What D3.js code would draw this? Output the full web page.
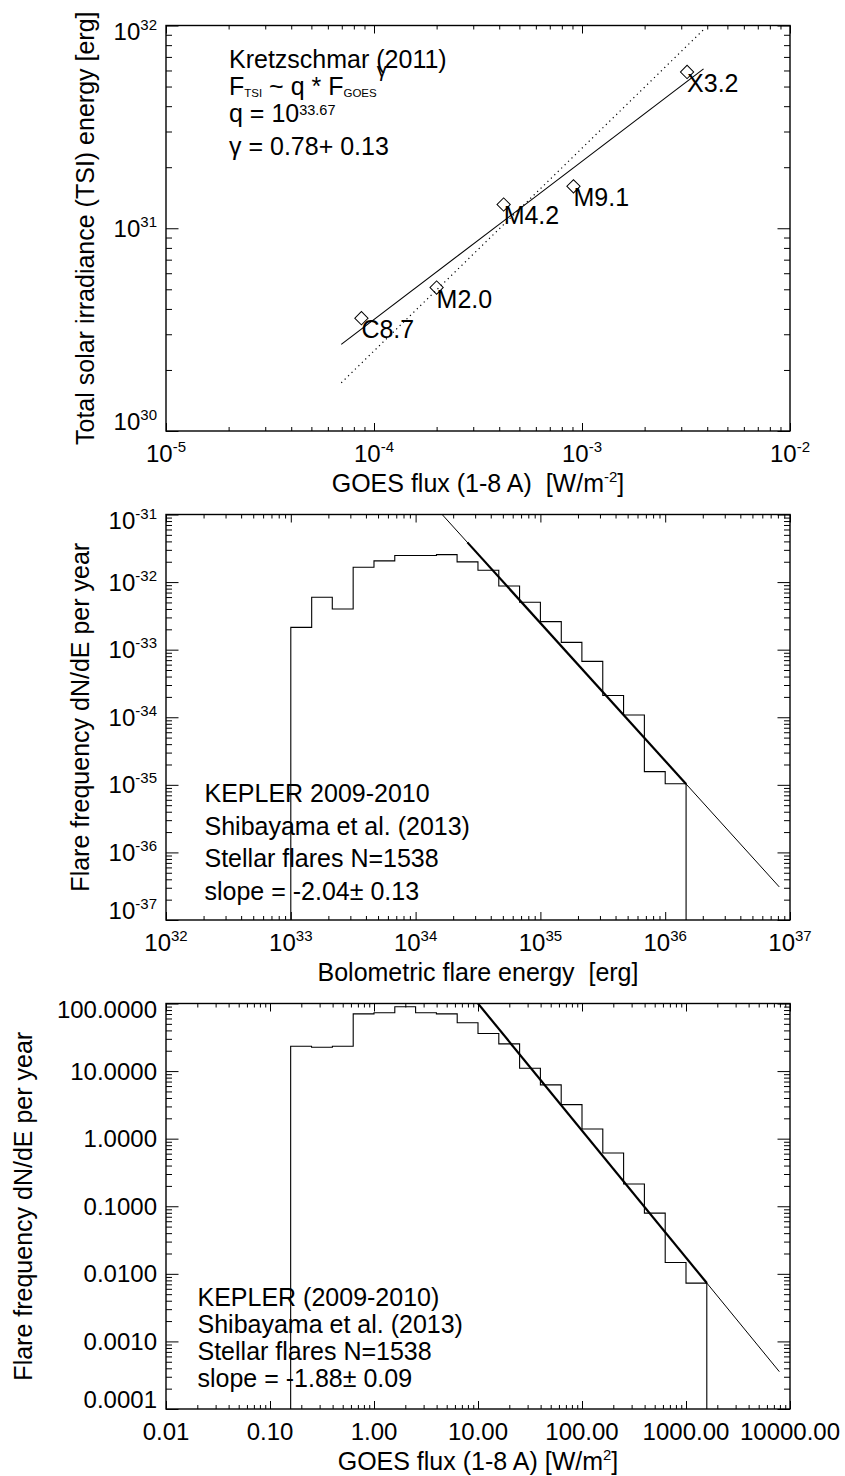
<!DOCTYPE html>
<html><head><meta charset="utf-8">
<script src="https://cdn.jsdelivr.net/npm/d3@7/dist/d3.min.js"></script>
<style>
html,body{margin:0;padding:0;background:#fff;}
svg text{font-family:"Liberation Sans",Arial,Helvetica,sans-serif;fill:#000;white-space:pre;}
</style></head><body>
<svg id="chart" width="845" height="1476"></svg>
<script>
// ---------------- Panel 1: Kretzschmar (2011) ----------------
const flareLabels   = ["C8.7","M2.0","M4.2","M9.1","X3.2"];
const goesPeakFlux  = [8.7e-5, 2.0e-4, 4.2e-4, 9.1e-4, 3.2e-3];
const tsiEnergy     = [3.6e30, 5.1e30, 1.31e31, 1.61e31, 5.9e31];
const tsiFitLogQ    = 33.67;
const tsiFitGamma   = 0.78;
const tsiFitRange   = [6.96e-5, 3.84e-3];
const linFitLogQ    = 34.395;
const linFitGamma   = 1.0;
const p1XDomain     = [1e-5, 1e-2];
const p1YDomain     = [1e30, 1e32];
const p1XTicks      = [1e-5, 1e-4, 1e-3, 1e-2];
const p1XTickExp    = ["-5","-4","-3","-2"];
const p1YTicks      = [1e30, 1e31, 1e32];
const p1YTickExp    = ["30","31","32"];

// ---------------- Panel 2: Kepler energy distribution ----------------
const energyBinEdges = [1.00e33,1.47e33,2.15e33,3.16e33,4.64e33,6.81e33,1.00e34,1.47e34,2.15e34,3.16e34,
                        4.64e34,6.81e34,1.00e35,1.47e35,2.15e35,3.16e35,4.64e35,6.81e35,1.00e36,1.47e36];
const energyFreq     = [2.14e-33,5.96e-33,4.0e-33,1.66e-32,2.06e-32,2.47e-32,2.47e-32,2.55e-32,1.99e-32,1.50e-32,
                        8.77e-33,5.02e-33,2.60e-33,1.28e-33,6.71e-34,2.10e-34,1.08e-34,1.57e-35,1.04e-35];
const energySlope    = -2.04;
const energyLogNorm  = 38.794;
const energyLineRange= [1.0e34, 8.2e36];
const energyFitRange = [2.6e34, 1.47e36];
const p2XDomain      = [1e32, 1e37];
const p2YDomain      = [1e-37, 1e-31];
const p2XTicks       = [1e32,1e33,1e34,1e35,1e36,1e37];
const p2XTickExp     = ["32","33","34","35","36","37"];
const p2YTicks       = [1e-37,1e-36,1e-35,1e-34,1e-33,1e-32,1e-31];
const p2YTickExp     = ["-37","-36","-35","-34","-33","-32","-31"];
const p2Notes        = ["KEPLER 2009-2010","Shibayama et al. (2013)","Stellar flares N=1538"];
const p2SlopeText    = ["slope = -2.04", "\u00B1", " 0.13"];

// ---------------- Panel 3: Kepler GOES-flux distribution ----------------
const goesBinEdges = [0.158,0.251,0.398,0.631,1.0,1.585,2.512,3.981,6.31,10,15.85,
                      25.12,39.81,63.1,100,158.5,251.2,398.1,631,1000,1585];
const goesFreq     = [23.3,22.5,23.3,70.3,72.8,89.4,72.8,70.3,51.8,35.9,
                      25.3,11.0,6.25,3.19,1.39,0.614,0.213,0.079,0.0147,0.00728];
const goesSlope    = -1.88;
const goesLogNorm  = 3.88;
const goesLineRange= [8.0, 7900];
const goesFitRange = [8.0, 1585];
const p3XDomain    = [0.01, 10000];
const p3YDomain    = [1e-4, 100];
const p3XTicks     = [0.01,0.1,1,10,100,1000,10000];
const p3XTickLabels= ["0.01","0.10","1.00","10.00","100.00","1000.00","10000.00"];
const p3YTicks     = [1e-4,1e-3,1e-2,0.1,1,10,100];
const p3YTickLabels= ["0.0001","0.0010","0.0100","0.1000","1.0000","10.0000","100.0000"];
const p3Notes      = ["KEPLER (2009-2010)","Shibayama et al. (2013)","Stellar flares N=1538"];
const p3SlopeText  = ["slope = -1.88", "\u00B1", " 0.09"];

// ---------------- layout ----------------
const X0 = 166, X1 = 790, PH = 405.5;
const tops = [25.5, 514.5, 1003.5];
const FS = 25, TFS = 24, SUP = 15;
const svg = d3.select("#chart");
svg.append("rect").attr("width",845).attr("height",1476).attr("fill","#fff");

const isMajor = v => Math.abs(Math.log10(v) - Math.round(Math.log10(v))) < 1e-6;

function makePanel(i, xDom, yDom){
  const top = tops[i], bot = top + PH;
  const x = d3.scaleLog().domain(xDom).range([X0, X1]);
  const y = d3.scaleLog().domain(yDom).range([bot, top]);
  const g = svg.append("g");
  const cid = "clip"+i;
  svg.append("clipPath").attr("id",cid).append("rect")
     .attr("x",X0).attr("y",top).attr("width",X1-X0).attr("height",PH);
  const data = g.append("g").attr("clip-path",`url(#${cid})`);
  const xt = x.ticks(), yt = y.ticks();
  const xMaj = xt.filter(isMajor), xMin = xt.filter(v=>!isMajor(v));
  const yMaj = yt.filter(isMajor), yMin = yt.filter(v=>!isMajor(v));
  const ax = [
    [d3.axisBottom(x), `translate(0,${bot})`, xMaj, 8],
    [d3.axisBottom(x), `translate(0,${bot})`, xMin, 4],
    [d3.axisTop(x), `translate(0,${top})`, xMaj, 8],
    [d3.axisTop(x), `translate(0,${top})`, xMin, 4],
    [d3.axisLeft(y), `translate(${X0},0)`, yMaj, 12.5],
    [d3.axisLeft(y), `translate(${X0},0)`, yMin, 6],
    [d3.axisRight(y), `translate(${X1},0)`, yMaj, 12.5],
    [d3.axisRight(y), `translate(${X1},0)`, yMin, 6]
  ];
  ax.forEach(([a,tr,vals,len])=>{
    const ag = g.append("g").attr("transform",tr)
      .call(a.tickValues(vals).tickSize(-len).tickSizeOuter(0).tickFormat(""));
    ag.select(".domain").remove();
    ag.selectAll("line").attr("stroke","#000").attr("stroke-width",1);
  });
  g.append("rect").attr("x",X0).attr("y",top).attr("width",X1-X0).attr("height",PH)
   .attr("fill","none").attr("stroke","#000").attr("stroke-width",1.4);
  return {x,y,g,data,top,bot};
}

function expLabel(g, px, py, anchor, base, exp){
  const t = g.append("text").attr("x",px).attr("y",py).attr("text-anchor",anchor)
     .style("font-size",TFS+"px");
  t.append("tspan").text(base);
  if (exp !== null) t.append("tspan").attr("dy",-10).style("font-size",SUP+"px").text(exp);
  return t;
}

function xTickLabels(p, ticks, labels, isExp){
  ticks.forEach((v,k)=>{
    expLabel(p.g, p.x(v), p.bot+31, "middle", isExp ? "10" : labels[k], isExp ? labels[k] : null);
  });
}
function yTickLabels(p, ticks, labels, isExp){
  ticks.forEach((v,k)=>{
    let yy = p.y(v) + 8.5;
    if (k === 0) yy = p.bot - 1;
    if (k === ticks.length-1) yy = p.top + 14;
    expLabel(p.g, X0-9, yy, "end", isExp ? "10" : labels[k], isExp ? labels[k] : null);
  });
}
function yTitle(p, text, bx){
  p.g.append("text").attr("transform",`translate(${bx},${(p.top+p.bot)/2}) rotate(-90)`)
   .attr("text-anchor","middle").style("font-size",FS+"px").text(text);
}
function xTitle(p, parts){
  const t = p.g.append("text").attr("x",(X0+X1)/2).attr("y",p.bot+61)
    .attr("text-anchor","middle").style("font-size",FS+"px");
  parts.forEach(([s,dy,fs])=>{
    const ts = t.append("tspan").text(s);
    if (dy) ts.attr("dy",dy);
    if (fs) ts.style("font-size",fs+"px");
  });
}
function histogram(p, edges, vals, yMin){
  const pts = [[edges[0], yMin]];
  vals.forEach((v,k)=>{ pts.push([edges[k], v]); pts.push([edges[k+1], v]); });
  pts.push([edges[edges.length-1], yMin]);
  p.data.append("path").datum(pts)
    .attr("d", d3.line().x(d=>p.x(d[0])).y(d=>p.y(d[1])))
    .attr("fill","none").attr("stroke","#000").attr("stroke-width",1.1);
}
function powerLine(p, range, logNorm, slope, width, dash){
  const pts = range.map(v=>[v, Math.pow(10, logNorm + slope*Math.log10(v))]);
  const path = p.data.append("path").datum(pts)
    .attr("d", d3.line().x(d=>p.x(d[0])).y(d=>p.y(d[1])))
    .attr("fill","none").attr("stroke","#000").attr("stroke-width",width);
  if (dash) path.attr("stroke-dasharray",dash);
}
function notes(p, lines, slopeParts, x0, ys){
  lines.forEach((s,k)=>{
    p.g.append("text").attr("x",x0).attr("y",ys[k]).style("font-size",FS+"px").text(s);
  });
  const t = p.g.append("text").attr("x",x0).attr("y",ys[3]).style("font-size",FS+"px");
  slopeParts.forEach(s=>t.append("tspan").text(s));
}

// ---------------- Panel 1 ----------------
const p1 = makePanel(0, p1XDomain, p1YDomain);
powerLine(p1, tsiFitRange, tsiFitLogQ, tsiFitGamma, 1.1, null);
powerLine(p1, tsiFitRange, linFitLogQ, linFitGamma, 1.2, "1.2,3.6");
const diamond = d3.symbol().type(d3.symbolSquare).size(88);
goesPeakFlux.forEach((f,k)=>{
  p1.data.append("path").attr("d",diamond())
    .attr("transform",`translate(${p1.x(f)},${p1.y(tsiEnergy[k])}) rotate(45)`)
    .attr("fill","none").attr("stroke","#000").attr("stroke-width",1);
  p1.g.append("text").attr("x",p1.x(f)).attr("y",p1.y(tsiEnergy[k])+20)
    .style("font-size",FS+"px").text(flareLabels[k]);
});
xTickLabels(p1, p1XTicks, p1XTickExp, true);
yTickLabels(p1, p1YTicks, p1YTickExp, true);
yTitle(p1, "Total solar irradiance (TSI) energy [erg]", 94);
xTitle(p1, [["GOES flux (1-8 A)  [W/m"],["-2",-10,SUP],["]",10,null]]);
{
  const g = p1.g, ax = 229;
  g.append("text").attr("x",ax).attr("y",68.3).style("font-size",FS+"px").text("Kretzschmar (2011)");
  const t2 = g.append("text").attr("x",ax).attr("y",95).style("font-size",FS+"px");
  t2.append("tspan").text("F");
  t2.append("tspan").attr("dy",2).style("font-size","11.5px").text("TSI");
  t2.append("tspan").attr("dy",-2).text(" ~ q * F");
  t2.append("tspan").attr("dy",2).style("font-size","11.5px").text("GOES");
  t2.append("tspan").attr("dy",-20).style("font-size","20px").text("\u03B3");
  const t3 = g.append("text").attr("x",ax).attr("y",121.7).style("font-size",FS+"px");
  t3.append("tspan").text("q = 10");
  t3.append("tspan").attr("dy",-7).style("font-size","14.5px").text("33.67");
  g.append("text").attr("x",ax).attr("y",155).style("font-size",FS+"px").text("\u03B3 = 0.78+ 0.13");
}

// ---------------- Panel 2 ----------------
const p2 = makePanel(1, p2XDomain, p2YDomain);
histogram(p2, energyBinEdges, energyFreq, p2YDomain[0]);
powerLine(p2, energyLineRange, energyLogNorm, energySlope, 1, null);
powerLine(p2, energyFitRange, energyLogNorm, energySlope, 2.2, null);
xTickLabels(p2, p2XTicks, p2XTickExp, true);
yTickLabels(p2, p2YTicks, p2YTickExp, true);
yTitle(p2, "Flare frequency dN/dE per year", 89);
xTitle(p2, [["Bolometric flare energy  [erg]"]]);
notes(p2, p2Notes, p2SlopeText, 204.5, [801.7, 835, 866.7, 900]);

// ---------------- Panel 3 ----------------
const p3 = makePanel(2, p3XDomain, p3YDomain);
histogram(p3, goesBinEdges, goesFreq, p3YDomain[0]);
powerLine(p3, goesLineRange, goesLogNorm, goesSlope, 1, null);
powerLine(p3, goesFitRange, goesLogNorm, goesSlope, 2.2, null);
xTickLabels(p3, p3XTicks, p3XTickLabels, false);
yTickLabels(p3, p3YTicks, p3YTickLabels, false);
yTitle(p3, "Flare frequency dN/dE per year", 32);
xTitle(p3, [["GOES flux (1-8 A) [W/m"],["2",-10,SUP],["]",10,null]]);
notes(p3, p3Notes, p3SlopeText, 197.5, [1306, 1333, 1360, 1387]);
</script>
</body></html>
